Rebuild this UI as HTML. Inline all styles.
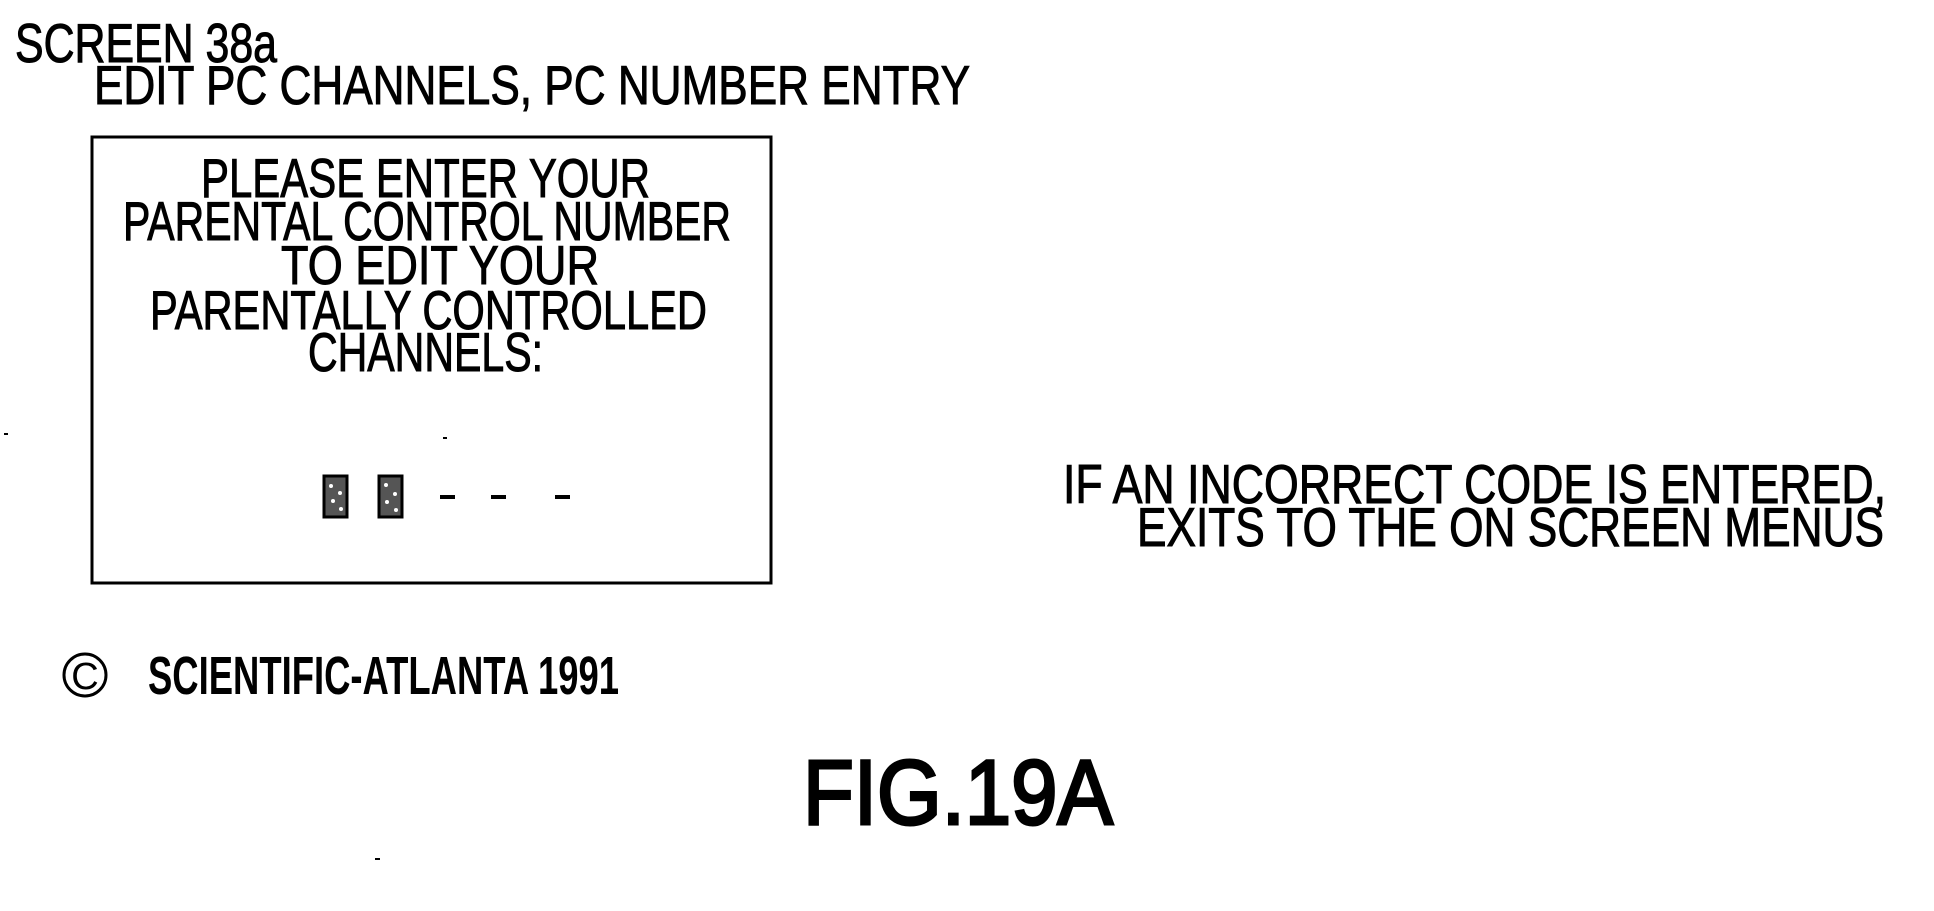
<!DOCTYPE html>
<html><head><meta charset="utf-8"><style>
html,body{margin:0;padding:0;background:#fff;}
svg{display:block;}
text{font-family:"Liberation Sans",sans-serif;fill:#000;}
</style></head><body>
<svg width="1934" height="911" viewBox="0 0 1934 911" xmlns="http://www.w3.org/2000/svg">
<g font-size="55" stroke="#000" stroke-width="1">
<text x="15" y="62" textLength="262" lengthAdjust="spacingAndGlyphs">SCREEN 38a</text>
<text x="94" y="104" textLength="876" lengthAdjust="spacingAndGlyphs">EDIT PC CHANNELS, PC NUMBER ENTRY</text>
</g>
<rect x="92" y="137" width="679" height="446" fill="none" stroke="#000" stroke-width="3"/>
<g font-size="55" stroke="#000" stroke-width="1">
<text x="201" y="197" textLength="449" lengthAdjust="spacingAndGlyphs">PLEASE ENTER YOUR</text>
<text x="123" y="240" textLength="608" lengthAdjust="spacingAndGlyphs">PARENTAL CONTROL NUMBER</text>
<text x="281" y="284" textLength="318" lengthAdjust="spacingAndGlyphs">TO EDIT YOUR</text>
<text x="150" y="329" textLength="557" lengthAdjust="spacingAndGlyphs">PARENTALLY CONTROLLED</text>
<text x="308" y="371" textLength="235" lengthAdjust="spacingAndGlyphs">CHANNELS:</text>
</g>
<g>
<rect x="324" y="476" width="23" height="41" fill="#555" stroke="#000" stroke-width="3"/>
<rect x="379" y="476" width="23" height="41" fill="#555" stroke="#000" stroke-width="3"/>
<g fill="#fff">
<circle cx="331" cy="486" r="2"/><circle cx="340" cy="493" r="2"/><circle cx="333" cy="501" r="2"/><circle cx="341" cy="509" r="2"/>
<circle cx="386" cy="485" r="2"/><circle cx="395" cy="494" r="2"/><circle cx="387" cy="502" r="2"/><circle cx="396" cy="510" r="2"/>
</g>
<rect x="440" y="495" width="15" height="4" fill="#000"/>
<rect x="491" y="495" width="15" height="4" fill="#000"/>
<rect x="555" y="495" width="15" height="4" fill="#000"/>
</g>
<g font-size="55" stroke="#000" stroke-width="1">
<text x="1063" y="503" textLength="823" lengthAdjust="spacingAndGlyphs">IF AN INCORRECT CODE IS ENTERED,</text>
<text x="1137" y="546" textLength="747" lengthAdjust="spacingAndGlyphs">EXITS TO THE ON SCREEN MENUS</text>
</g>
<circle cx="85" cy="675" r="21" fill="none" stroke="#000" stroke-width="3"/>
<text x="85" y="689" font-size="38" text-anchor="middle">C</text>
<text x="148" y="694" font-size="54" font-weight="bold" textLength="471" lengthAdjust="spacingAndGlyphs">SCIENTIFIC-ATLANTA 1991</text>
<text x="803" y="824" font-size="92" stroke="#000" stroke-width="3" textLength="310" lengthAdjust="spacingAndGlyphs">FIG.19A</text>
<rect x="4" y="433" width="4" height="2" fill="#000"/>
<rect x="443" y="437" width="4" height="2" fill="#000"/>
<rect x="375" y="858" width="5" height="2" fill="#000"/>
</svg>
</body></html>
